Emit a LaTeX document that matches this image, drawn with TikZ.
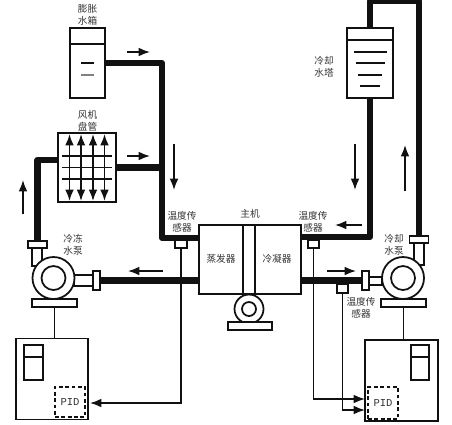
\documentclass[tikz,border=0pt]{standalone}
\usepackage{fontspec}
\usepackage{tikz}
\usetikzlibrary{arrows.meta,calc}
\newfontfamily\cjk{Noto Sans CJK SC}
\newfontfamily\pidfont{Liberation Mono}
\definecolor{ink}{HTML}{111111}
\definecolor{cap}{HTML}{333333}
\definecolor{muted}{HTML}{808080}

\begin{document}
\begin{tikzpicture}[x=0.02cm, y=-0.02cm, >={Latex[length=6.5pt,width=5pt]},
    line width=1pt, draw=ink,
    pipe/.style={line width=3.5pt, line join=round},
    flow/.style={->, line width=0.9pt},
    sig/.style={->, line width=0.9pt},
    part/.style={draw, fill=white, line width=1pt, inner sep=0pt, outer sep=0pt},
    caption/.style={font=\cjk\fontsize{5.5}{6.8}\selectfont, text=cap, align=center, inner sep=0pt},
    pidbox/.style={draw, dash pattern=on 2.2pt off 1.4pt, line width=1.1pt, inner sep=0pt, outer sep=0pt,
      minimum width=0.6cm, font=\pidfont\fontsize{6}{6}\selectfont, text=cap}]
    \path[use as bounding box, clip] (0,0) rectangle (452,424);

    % expansion tank
    \node[part, minimum width=0.69cm, minimum height=1.4cm] (tank) at (87.5,63) {};
    \draw (tank.north west)+(0,16) -- +(34.5,16);
    \draw (81,63)--(94,63); \draw[muted] (81,75)--(94,75);
    \node[caption] (tankcap) at (87.5,15) {膨胀\\水箱};

    % fan coil
    \node[part, minimum width=1.16cm, minimum height=1.38cm] (coil) at (87,167.5) {};
    \foreach \gy in {156,167.5,179} \draw (62,\gy)--(112,\gy);
    \foreach \gx in {69.5,81,93,104.5} \draw[<->] (\gx,134)--(\gx,201);
    \node[caption] (coilcap) at (87.5,120.5) {风机\\盘管};

    % cooling tower
    \node[part, minimum width=0.92cm, minimum height=1.4cm] (tower) at (370,63) {};
    \draw (tower.north west)+(0,12) -- +(46,12);
    \foreach \wa/\wb/\wy in {354/387/52,356/385/63,358/382/75,360/380/86} \draw (\wa,\wy)--(\wb,\wy);
    \node[caption] (towercap) at (324,67) {冷却\\水塔};

    % main unit
    \node[part, minimum width=2.04cm, minimum height=1.38cm] (unit) at (250,259.5) {};
    \coordinate (chillerC) at (249,309);
    \foreach \ox in {243,255} \draw (\ox,225)--(\ox,300);
    \node[part, circle, minimum size=0.58cm] (chiller) at (chillerC) {};
    \node[part, circle, minimum size=0.28cm] (chillereye) at (chillerC) {};
    \node[part, minimum width=0.88cm, minimum height=0.16cm] (chillerbase) at (250,326) {};
    \node[caption] (unitcap) at (250,214) {主机};
    \node[caption] (evapcap) at (221,259) {蒸发器};
    \node[caption] (condcap) at (277,259) {冷凝器};

    % left pump
    \node[part, minimum width=0.2cm, minimum height=0.36cm] (stubLt) at (37,257) {};
    \node[part, minimum width=0.38cm, minimum height=0.22cm] (stubLr) at (83.5,280.5) {};
    \node[part, circle, minimum size=0.84cm] (pumpL) at (53.5,278) {};
    \node[part, circle, minimum size=0.48cm] (pumpLeye) at (53.5,278) {};
    \node[part, minimum width=0.38cm, minimum height=0.14cm] (flangeLt) at (37.5,244.5) {};
    \node[part, minimum width=0.14cm, minimum height=0.38cm] (flangeLr) at (96.5,280.5) {};
    \node[part, minimum width=0.9cm, minimum height=0.16cm] (baseL) at (54.5,303) {};
    \node[caption] (pumpLcap) at (73,245) {冷冻\\水泵};

    % right pump
    \node[part, minimum width=0.2cm, minimum height=0.44cm] (stubRt) at (419,254) {};
    \node[part, minimum width=0.26cm, minimum height=0.16cm] (stubRl) at (375.5,281) {};
    \node[part, circle, minimum size=0.84cm] (pumpR) at (403,278) {};
    \node[part, circle, minimum size=0.48cm] (pumpReye) at (403,278) {};
    \node[part, minimum width=0.38cm, minimum height=0.14cm] (flangeRt) at (419,239.5) {};
    \node[part, minimum width=0.14cm, minimum height=0.38cm] (flangeRl) at (365.5,280.5) {};
    \node[part, minimum width=0.9cm, minimum height=0.16cm] (baseR) at (403.5,303) {};
    \node[caption] (pumpRcap) at (394,245) {冷却\\水泵};

    % thick pipes
    \coordinate (joinL) at (162,238);
    \coordinate (joinR) at (370,237);
    \coordinate (topR) at (419,1);
    \coordinate (coilL) at (58,160);
    \coordinate (bendL) at (37.5,160);
    \draw[pipe] (tank.east) -| (joinL) -- (joinL -| unit.west);
    \draw[pipe] (coil.east) -- (coil.east -| joinL);
    \draw[pipe] (coilL) -- (bendL) -- (flangeLt.north);
    \draw[pipe] (flangeLr.east) -- (flangeLr.east -| unit.west);
    \draw[pipe] (joinR -| unit.east) -- (joinR) -- (tower.south);
    \draw[pipe] (tower.north) |- (topR) -- (flangeRt.north);
    \draw[pipe] (flangeRl.west) -- (flangeRl.west -| unit.east);

    % sensors
    \node[part, minimum width=0.24cm, minimum height=0.16cm] (sensorA) at (181,244) {};
    \node[part, minimum width=0.22cm, minimum height=0.16cm] (sensorB) at (313.5,244) {};
    \node[part, minimum width=0.22cm, minimum height=0.18cm] (sensorC) at (342.5,288.5) {};
    \node[caption] (sensorAcap) at (182,222) {温度传\\感器};
    \node[caption] (sensorBcap) at (313,222) {温度传\\感器};
    \node[caption] (sensorCcap) at (361,307.5) {温度传\\感器};

    % control cabinets
    \node[part, minimum width=1.44cm, minimum height=1.62cm] (driveL) at (52,379) {};
    \node[part, minimum width=0.38cm, minimum height=0.7cm] (panelL) at (33.5,362.5) {};
    \draw (panelL.north west)+(0,12) -- +(19,12);
    \node[pidbox, minimum height=0.6cm] (pidL) at (70,402) {PID};
    \node[part, minimum width=1.46cm, minimum height=1.62cm] (driveR) at (401.5,380.5) {};
    \node[part, minimum width=0.36cm, minimum height=0.7cm] (panelR) at (420,362.5) {};
    \draw (panelR.north west)+(0,12) -- +(18,12);
    \node[pidbox, minimum height=0.64cm] (pidR) at (383,403) {PID};

    % signal lines
    \draw (baseL.south) -- (baseL.south |- driveL.north);
    \draw (baseR.south) -- (baseR.south |- driveR.north);
    \draw[sig] (sensorA.south) |- ($(pidL.east)+(5,1)$);
    \draw[sig] (sensorB.south) |- (driveR.west |- 0,399);
    \draw[sig] (sensorC.south) |- (driveR.west |- 0,410);

    % flow arrows
    \foreach \fn/\fa/\fb/\fc/\fd in {a/127/52/150/52,b/127/156/150/156,c/174/144/174/190,
      d/23/214/23/180,e/163/271/128/271,f/355/144/355/190,g/405/191/405/145,
      h/362/225/335/225,i/327/271/356/271}
    {
      \coordinate (flow\fn a) at (\fa,\fb);
      \coordinate (flow\fn b) at (\fc,\fd);
      \draw[flow] (flow\fn a) -- (flow\fn b);
    }
  \end{tikzpicture}
\end{document}
